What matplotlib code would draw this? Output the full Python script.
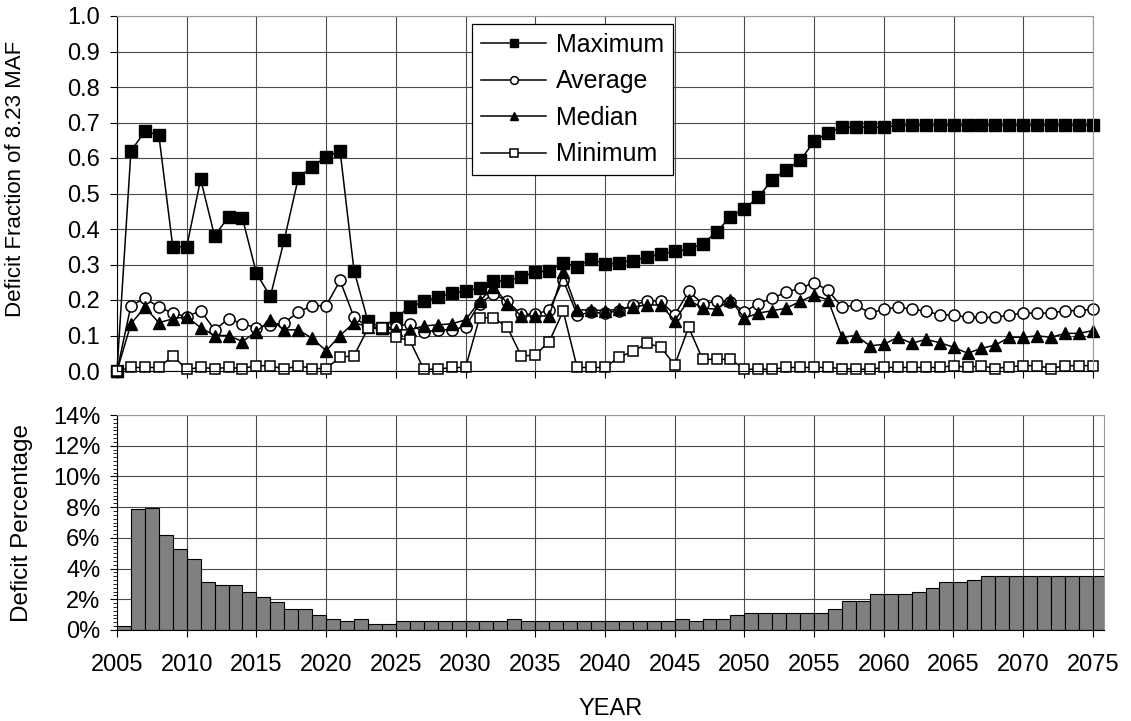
import matplotlib.pyplot as plt

plt.rcParams['font.family'] = ['Liberation Sans', 'DejaVu Sans']

# years on the x axis
years = list(range(2005, 2076))

# deficit fraction of 8.23 MAF (top panel)
maximum = [
    0.0, 0.62, 0.675, 0.665, 0.35, 0.35, 0.54, 0.38, 0.435, 0.43,        # 2005-2014
    0.275, 0.21, 0.37, 0.543, 0.576, 0.603, 0.62, 0.283, 0.14, 0.122,    # 2015-2024
    0.15, 0.18, 0.196, 0.208, 0.219, 0.224, 0.235, 0.254, 0.254, 0.266,  # 2025-2034
    0.278, 0.283, 0.305, 0.294, 0.315, 0.301, 0.305, 0.311, 0.321, 0.329,  # 2035-2044
    0.337, 0.343, 0.358, 0.391, 0.435, 0.457, 0.49, 0.539, 0.567, 0.593,  # 2045-2054
    0.647, 0.671, 0.687, 0.687, 0.687, 0.687, 0.692, 0.692, 0.692, 0.692,  # 2055-2064
    0.692, 0.692, 0.692, 0.692, 0.692, 0.692, 0.692, 0.692, 0.692, 0.692,  # 2065-2074
    0.692,                                                                # 2075
]
average = [
    0.0, 0.184, 0.205, 0.18, 0.163, 0.153, 0.17, 0.116, 0.147, 0.133,
    0.122, 0.13, 0.136, 0.166, 0.184, 0.184, 0.255, 0.151, 0.125, 0.12,
    0.125, 0.133, 0.109, 0.116, 0.116, 0.125, 0.19, 0.217, 0.196, 0.16,
    0.16, 0.172, 0.257, 0.158, 0.165, 0.163, 0.17, 0.186, 0.197, 0.197,
    0.158, 0.224, 0.19, 0.196, 0.195, 0.167, 0.19, 0.205, 0.222, 0.233,
    0.249, 0.227, 0.18, 0.186, 0.163, 0.174, 0.18, 0.174, 0.169, 0.158,
    0.158, 0.151, 0.151, 0.151, 0.158, 0.163, 0.163, 0.163, 0.17, 0.17,
    0.174,
]
median = [
    0.0, 0.133, 0.18, 0.136, 0.147, 0.153, 0.122, 0.1, 0.1, 0.083,
    0.111, 0.144, 0.116, 0.116, 0.092, 0.057, 0.1, 0.136, 0.125, 0.12,
    0.116, 0.116, 0.127, 0.13, 0.133, 0.144, 0.196, 0.238, 0.19, 0.155,
    0.155, 0.155, 0.28, 0.172, 0.172, 0.17, 0.174, 0.18, 0.186, 0.186,
    0.142, 0.2, 0.177, 0.174, 0.2, 0.149, 0.163, 0.17, 0.177, 0.196,
    0.214, 0.2, 0.095, 0.1, 0.071, 0.075, 0.095, 0.078, 0.089, 0.08,
    0.067, 0.05, 0.064, 0.073, 0.095, 0.095, 0.099, 0.095, 0.106, 0.106,
    0.114,
]
minimum = [
    0.0, 0.01, 0.01, 0.01, 0.042, 0.005, 0.01, 0.007, 0.01, 0.007,
    0.015, 0.015, 0.005, 0.015, 0.007, 0.007, 0.039, 0.043, 0.12, 0.12,
    0.095, 0.086, 0.005, 0.005, 0.01, 0.01, 0.15, 0.15, 0.123, 0.042,
    0.045, 0.083, 0.169, 0.01, 0.01, 0.01, 0.039, 0.055, 0.078, 0.067,
    0.017, 0.123, 0.033, 0.033, 0.033, 0.005, 0.005, 0.005, 0.01, 0.01,
    0.01, 0.01, 0.007, 0.005, 0.005, 0.01, 0.01, 0.01, 0.01, 0.01,
    0.015, 0.01, 0.015, 0.007, 0.012, 0.015, 0.015, 0.007, 0.015, 0.015,
    0.015,
]

# deficit percentage (bottom panel)
deficit_pct = [
    0.25, 7.85, 7.95, 6.2, 5.3, 4.65, 3.15, 2.9, 2.9, 2.5,
    2.15, 1.8, 1.4, 1.4, 1.0, 0.72, 0.6, 0.72, 0.37, 0.37,
    0.6, 0.6, 0.6, 0.6, 0.6, 0.6, 0.6, 0.6, 0.72, 0.6,
    0.6, 0.6, 0.6, 0.6, 0.6, 0.6, 0.6, 0.6, 0.6, 0.6,
    0.72, 0.6, 0.72, 0.72, 1.0, 1.1, 1.1, 1.1, 1.1, 1.1,
    1.1, 1.37, 1.9, 1.9, 2.37, 2.37, 2.37, 2.5, 2.75, 3.15,
    3.15, 3.27, 3.53, 3.53, 3.53, 3.53, 3.53, 3.53, 3.53, 3.53,
    3.53,
]

year_ticks = list(range(2005, 2076, 5))
frac_ticks = [i / 10 for i in range(11)]
pct_ticks = list(range(0, 15, 2))

W, H = 1131, 721
fig = plt.figure(figsize=(W / 100, H / 100), dpi=100)

grid_color = '#4a4a4a'
edge_gray = '#9a9a9a'

# ---- top panel: deficit fractions ----
ax1 = fig.add_axes([117 / W, 1 - 371 / H, 976 / W, 355 / H])
ax1.plot(years, maximum, color='black', lw=1.1, marker='s', ms=8,
         mfc='black', mec='black', label='Maximum', clip_on=False)
ax1.plot(years, average, color='black', lw=1.1, marker='o', ms=8,
         mfc='white', mec='black', mew=1.1, label='Average', clip_on=False)
ax1.plot(years, median, color='black', lw=1.1, marker='^', ms=9,
         mfc='black', mec='black', label='Median', clip_on=False)
ax1.plot(years, minimum, color='black', lw=1.1, marker='s', ms=7.5,
         mfc='white', mec='black', mew=1.1, label='Minimum', clip_on=False)

ax1.set_xlim(2005, 2075)
ax1.set_ylim(0, 1.0)
ax1.set_xticks(year_ticks)
ax1.set_xticklabels([])
ax1.set_yticks(frac_ticks)
ax1.set_yticklabels(['%.1f' % v for v in frac_ticks])
ax1.grid(True, color=grid_color, lw=0.8)
ax1.set_axisbelow(True)
ax1.tick_params(axis='both', direction='out', length=5, width=0.8,
                labelsize=17, pad=7)
ax1.spines['left'].set_color('black')
ax1.spines['bottom'].set_color('black')
ax1.spines['top'].set_color(edge_gray)
ax1.spines['right'].set_color(edge_gray)
ax1.set_ylabel('Deficit Fraction of 8.23 MAF', fontsize=16)
ax1.yaxis.set_label_coords(-0.093, 0.54)

leg = ax1.legend(loc='upper left', bbox_to_anchor=(0.364, 0.977),
                 borderaxespad=0, fontsize=18, frameon=True, fancybox=False,
                 edgecolor='black', framealpha=1, handlelength=2.6,
                 handletextpad=0.4, labelspacing=0.5, borderpad=0.35,
                 markerscale=0.7)
leg.get_frame().set_linewidth(0.9)

# ---- bottom panel: deficit percentage ----
ax2 = fig.add_axes([117 / W, 1 - 630 / H, 987 / W, 215 / H])
ax2.bar(years, deficit_pct, width=1.0, align='edge', color='#808080',
        edgecolor='black', lw=0.8)
ax2.set_xlim(2005, 2075.8)
ax2.set_ylim(0, 14)
ax2.set_xticks(year_ticks)
ax2.set_xticklabels([str(y) for y in year_ticks], fontsize=17)
ax2.set_yticks(pct_ticks)
ax2.set_yticklabels(['%d%%' % v for v in pct_ticks])
ax2.set_yticks([i / 4 for i in range(57)], minor=True)
ax2.grid(True, which='major', color=grid_color, lw=0.8)
ax2.set_axisbelow(True)
ax2.tick_params(axis='y', which='major', direction='out', length=5,
                width=0.8, labelsize=17, pad=7)
ax2.tick_params(axis='y', which='minor', direction='out', length=3, width=0.6)
ax2.tick_params(axis='x', direction='out', length=5, width=0.8, pad=12)
ax2.spines['left'].set_color('black')
ax2.spines['bottom'].set_color('black')
ax2.spines['top'].set_color(edge_gray)
ax2.spines['right'].set_color(edge_gray)
ax2.set_ylabel('Deficit Percentage', fontsize=17.5)
ax2.yaxis.set_label_coords(-0.085, 0.5)
ax2.set_xlabel('YEAR', fontsize=17, labelpad=16)

fig.savefig('out.png', dpi=100)
